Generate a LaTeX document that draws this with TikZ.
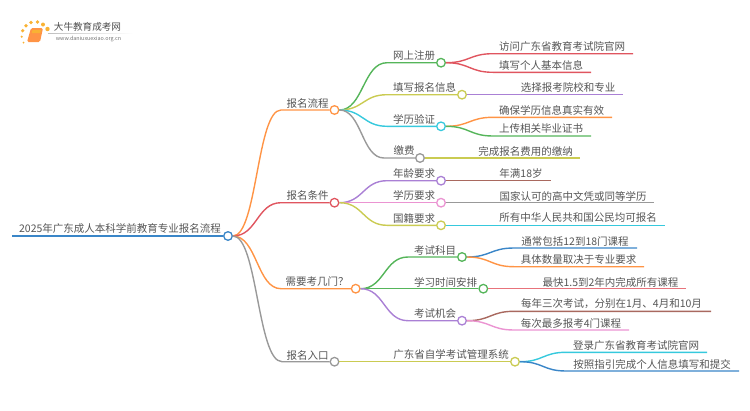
\documentclass[tikz,border=0pt]{standalone}
\usepackage{fontspec}
\setmainfont{Noto Sans CJK SC}
\usepackage{xcolor}
\usetikzlibrary{calc}
\definecolor{MapBlue}{HTML}{3A86C8}
\definecolor{MapOrange}{HTML}{FF9445}
\definecolor{MapRed}{HTML}{E0555F}
\definecolor{MapGreen}{HTML}{55B55A}
\definecolor{MapYellow}{HTML}{CACB52}
\definecolor{MapCyan}{HTML}{36C9DD}
\definecolor{MapGrey}{HTML}{999999}
\definecolor{MapPurple}{HTML}{AA80D5}
\definecolor{MapPink}{HTML}{EB94D2}
\definecolor{MapBrown}{HTML}{A9695F}
\definecolor{MapSalmon}{HTML}{E8737B}
\definecolor{MapText}{HTML}{555555}
\definecolor{LogoGold}{HTML}{F9B233}
\tikzset{
  dot/.style={circle,draw=#1,fill=white,line width=1.3pt,minimum size=8.6pt,inner sep=0pt},
  txt/.style={font=\fontsize{10.5pt}{12pt}\selectfont,text=MapText,inner sep=0pt},
  link/.style={line width=1.4pt,draw=#1},
  curve/.style={to path={let \p1=(\tikztostart),\p2=(\tikztotarget),\n1={0.5*\x1+0.5*\x2} in
    .. controls (\n1,\y1) and (\n1,\y2) .. (\tikztotarget)}},
  spark/.style={circle,fill=LogoGold,inner sep=0pt,minimum size=#1}
}
\begin{document}
\begin{tikzpicture}[x=1pt,y=-1pt]
  \useasboundingbox (0,0) rectangle (750,410);
  % logo
  \node[spark=3.6pt] (s1) at (22.7,30.7) {}; \node[spark=3.6pt] (s2) at (26,25.7) {};
  \node[spark=3.8pt] (s3) at (31,22.5) {}; \node[spark=3.8pt] (s4) at (37.5,22) {};
  \node[spark=4pt] (s5) at (43,24.5) {}; \node[spark=4.4pt] (s6) at (47.5,29) {};
  \node[spark=2.4pt] (s7) at (21.7,36.7) {}; \node[spark=2pt] (s8) at (23.5,42.7) {};
  \fill[MapOrange,rounded corners=1.5pt] (31,28) -- (43,28) -- (40,42) -- (27,42) -- cycle;
  \fill[LogoGold] (32.5,30) -- (41,30) -- (40.3,33) -- (31.8,33) -- cycle;
  \shade[left color=black!25,right color=white] (48,33) rectangle (133,33.6);
  \node[font=\fontsize{9.6pt}{11pt}\selectfont,text=black!70,inner sep=0pt] (logoname) at (87.5,27) {大牛教育成考网};
  \node[font=\fontsize{5.4pt}{6pt}\selectfont,text=black!55,inner sep=0pt] (logourl) at (88.5,38.7) {www.daniuxuexiao.org.cn};
  % main dots
  \node[dot=MapBlue] (root) at (228,236) {};
  \node[dot=MapOrange] (flow) at (334.5,110) {};
  \node[dot=MapRed] (cond) at (334.5,202.7) {};
  \node[dot=MapOrange] (exam) at (355.7,288.7) {};
  \node[dot=MapGrey] (entry) at (334.5,361.7) {};
  \node[dot=MapGreen] (reg) at (441,62.7) {};
  \node[dot=MapYellow] (fill) at (462,94.7) {};
  \node[dot=MapCyan] (verify) at (441,126.3) {};
  \node[dot=MapGrey] (fee) at (420,158) {};
  \node[dot=MapPurple] (age) at (441,180.7) {};
  \node[dot=MapPink] (edu) at (441,202.7) {};
  \node[dot=MapYellow] (nation) at (441,225.3) {};
  \node[dot=MapGreen] (subject) at (462,257) {};
  \node[dot=MapGreen] (study) at (483.3,288.7) {};
  \node[dot=MapPurple] (chance) at (462,320.7) {};
  \node[dot=MapYellow] (system) at (515,361.7) {};
  % labels
  \node[txt] (roott) at (120,229) {2025年广东成人本科学前教育专业报名流程};
  \node[txt] (flowt) at (307.5,103.5) {报名流程};
  \node[txt] (condt) at (307.5,196) {报名条件};
  \node[txt] (examt) at (317,282) {需要考几门？};
  \node[txt] (entryt) at (307.5,355) {报名入口};
  \node[txt] (regt) at (414,56) {网上注册};
  \node[txt] (fillt) at (424.5,87.5) {填写报名信息};
  \node[txt] (verifyt) at (414,119.5) {学历验证};
  \node[txt] (feet) at (404,151) {缴费};
  \node[txt] (aget) at (414,173.5) {年龄要求};
  \node[txt] (edut) at (414,195.5) {学历要求};
  \node[txt] (nationt) at (414,218) {国籍要求};
  \node[txt] (subjectt) at (435,250) {考试科目};
  \node[txt] (studyt) at (445.5,282) {学习时间安排};
  \node[txt] (chancet) at (435,313.5) {考试机会};
  \node[txt] (systemt) at (451,355) {广东省自学考试管理系统};
  \node[txt] (l1) at (562,46.5) {访问广东省教育考试院官网};
  \node[txt] (l2) at (541,65) {填写个人基本信息};
  \node[txt] (l3) at (568,87.5) {选择报考院校和专业};
  \node[txt] (l4) at (551.5,110) {确保学历信息真实有效};
  \node[txt] (l5) at (541,129) {上传相关毕业证书};
  \node[txt] (l6) at (525.5,151) {完成报名费用的缴纳};
  \node[txt] (l7) at (521,173.5) {年满18岁};
  \node[txt] (l8) at (573,196) {国家认可的高中文凭或同等学历};
  \node[txt] (l9) at (578,218) {所有中华人民共和国公民均可报名};
  \node[txt] (l10) at (575,241) {通常包括12到18门课程};
  \node[txt] (l11) at (578.5,259.5) {具体数量取决于专业要求};
  \node[txt] (l12) at (610.5,282) {最快1.5到2年内完成所有课程};
  \node[txt] (l13) at (611.5,304) {每年三次考试，分别在1月、4月和10月};
  \node[txt] (l14) at (571,323) {每次最多报考4门课程};
  \node[txt] (l15) at (636,345.5) {登录广东省教育考试院官网};
  \node[txt] (l16) at (652,364.5) {按照指引完成个人信息填写和提交};
  % line ends and bends
  \coordinate (rootend) at (12,236);
  \coordinate (flowb) at (281,110); \coordinate (condb) at (281,202.7);
  \coordinate (examb) at (281,288.7); \coordinate (entryb) at (282,361.7);
  \coordinate (regb) at (387,62.7); \coordinate (fillb) at (387,94.7);
  \coordinate (verifyb) at (387,126.3); \coordinate (feeb) at (384,158);
  \coordinate (ageb) at (387,180.7); \coordinate (nationb) at (387,225.3);
  \coordinate (subjectb) at (408,257); \coordinate (chanceb) at (408,320.7);
  \coordinate (l1b) at (493,53.7); \coordinate (l1e) at (633,53.7);
  \coordinate (l2b) at (493,72.3); \coordinate (l2e) at (591,72.3);
  \coordinate (l3e) at (622.7,94.7);
  \coordinate (l4b) at (493,117.3); \coordinate (l4e) at (612,117.3);
  \coordinate (l5b) at (493,136); \coordinate (l5e) at (591,136);
  \coordinate (l6e) at (580,158);
  \coordinate (l7e) at (550.7,180.7); \coordinate (l8e) at (654,202.7);
  \coordinate (l9e) at (664.7,225.3);
  \coordinate (l10b) at (514,248); \coordinate (l10e) at (637,248);
  \coordinate (l11b) at (514,266.7); \coordinate (l11e) at (644,266.7);
  \coordinate (l12e) at (686,288.7);
  \coordinate (l13b) at (514,311.3); \coordinate (l13e) at (711,311.3);
  \coordinate (l14b) at (514,330); \coordinate (l14e) at (629,330);
  \coordinate (l15b) at (566,352.3); \coordinate (l15e) at (707,352.3);
  \coordinate (l16b) at (566,371); \coordinate (l16e) at (739,371);
  % connectors
  \draw[link=MapBlue] (root.west) -- (rootend);
  \draw[link=MapOrange] (root.east) to[curve] (flowb) -- (flow.west);
  \draw[link=MapRed] (root.east) to[curve] (condb) -- (cond.west);
  \draw[link=MapOrange] (root.east) to[curve] (examb) -- (exam.west);
  \draw[link=MapGrey] (root.east) to[curve] (entryb) -- (entry.west);
  \draw[link=MapGreen] (flow.east) to[curve] (regb) -- (reg.west);
  \draw[link=MapYellow] (flow.east) to[curve] (fillb) -- (fill.west);
  \draw[link=MapCyan] (flow.east) to[curve] (verifyb) -- (verify.west);
  \draw[link=MapGrey] (flow.east) to[curve] (feeb) -- (fee.west);
  \draw[link=MapPurple] (cond.east) to[curve] (ageb) -- (age.west);
  \draw[link=MapPink] (cond.east) -- (edu.west);
  \draw[link=MapYellow] (cond.east) to[curve] (nationb) -- (nation.west);
  \draw[link=MapGreen] (exam.east) to[curve] (subjectb) -- (subject.west);
  \draw[link=MapGreen] (exam.east) -- (study.west);
  \draw[link=MapPurple] (exam.east) to[curve] (chanceb) -- (chance.west);
  \draw[link=MapYellow] (entry.east) -- (system.west);
  \draw[link=MapRed] (reg.east) to[curve] (l1b) -- (l1e);
  \draw[link=MapRed] (reg.east) to[curve] (l2b) -- (l2e);
  \draw[link=MapPurple] (fill.east) -- (l3e);
  \draw[link=MapOrange] (verify.east) to[curve] (l4b) -- (l4e);
  \draw[link=MapGreen] (verify.east) to[curve] (l5b) -- (l5e);
  \draw[link=MapYellow] (fee.east) -- (l6e);
  \draw[link=MapBrown] (age.east) -- (l7e);
  \draw[link=MapGrey] (edu.east) -- (l8e);
  \draw[link=MapCyan] (nation.east) -- (l9e);
  \draw[link=MapBlue] (subject.east) to[curve] (l10b) -- (l10e);
  \draw[link=MapOrange] (subject.east) to[curve] (l11b) -- (l11e);
  \draw[link=MapSalmon] (study.east) -- (l12e);
  \draw[link=MapBrown] (chance.east) to[curve] (l13b) -- (l13e);
  \draw[link=MapPink] (chance.east) to[curve] (l14b) -- (l14e);
  \draw[link=MapCyan] (system.east) to[curve] (l15b) -- (l15e);
  \draw[link=MapBlue] (system.east) to[curve] (l16b) -- (l16e);
\end{tikzpicture}
\end{document}
